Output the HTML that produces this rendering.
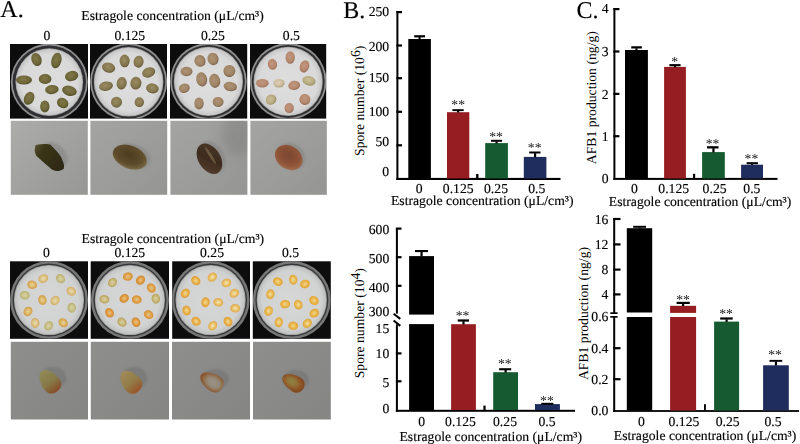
<!DOCTYPE html>
<html><head><meta charset="utf-8"><style>
html,body{margin:0;padding:0;background:#fff;}
svg{display:block;}
text{font-family:"Liberation Serif", serif;fill:#000;text-rendering:geometricPrecision;stroke:#000;stroke-width:0.15px;}
</style></head><body>
<svg width="800" height="444" viewBox="0 0 800 444">

<defs>
<filter id="tf0" x="-10%" y="-30%" width="120%" height="160%"><feOffset dx="0" dy="0"/></filter>
<filter id="tf" x="-10%" y="-30%" width="120%" height="160%"><feGaussianBlur stdDeviation="0.3"/></filter>
<filter id="bl" x="-30%" y="-30%" width="160%" height="160%"><feGaussianBlur stdDeviation="0.55"/></filter>
<filter id="bl3" x="-30%" y="-30%" width="160%" height="160%"><feGaussianBlur stdDeviation="0.55"/></filter>
<filter id="bl4" x="-50%" y="-50%" width="200%" height="200%"><feGaussianBlur stdDeviation="6"/></filter>
<filter id="bl2" x="-30%" y="-30%" width="160%" height="160%"><feGaussianBlur stdDeviation="1.0"/></filter>
<radialGradient id="paper1" cx="50%" cy="50%" r="50%"><stop offset="0" stop-color="#dddddd"/><stop offset="0.85" stop-color="#d9d9da"/><stop offset="1" stop-color="#c6c6c7"/></radialGradient>
<radialGradient id="paper2" cx="50%" cy="50%" r="50%"><stop offset="0" stop-color="#d6d6d6"/><stop offset="0.85" stop-color="#d1d2d2"/><stop offset="1" stop-color="#c0c0c1"/></radialGradient>
<linearGradient id="gray1" x1="0" y1="0" x2="1" y2="1"><stop offset="0" stop-color="#acacab"/><stop offset="1" stop-color="#979795"/></linearGradient>
<linearGradient id="gray1b" x1="0" y1="0" x2="1" y2="1"><stop offset="0" stop-color="#a4a4a2"/><stop offset="1" stop-color="#959593"/></linearGradient>
<linearGradient id="gray2" x1="0" y1="0" x2="1" y2="1"><stop offset="0" stop-color="#8e8e8d"/><stop offset="1" stop-color="#858584"/></linearGradient>
</defs>

<defs><radialGradient id="g1" cx="45%" cy="42%" r="58%"><stop offset="0" stop-color="#807847"/><stop offset="0.7" stop-color="#6d6639"/><stop offset="1" stop-color="#535027"/></radialGradient><radialGradient id="g2" cx="45%" cy="42%" r="58%"><stop offset="0" stop-color="#9a8b62"/><stop offset="0.7" stop-color="#85774f"/><stop offset="1" stop-color="#665a3a"/></radialGradient><radialGradient id="g3" cx="45%" cy="42%" r="58%"><stop offset="0" stop-color="#ae9274"/><stop offset="0.7" stop-color="#a08466"/><stop offset="1" stop-color="#7e644c"/></radialGradient><radialGradient id="g4" cx="45%" cy="42%" r="58%"><stop offset="0" stop-color="#c29680"/><stop offset="0.7" stop-color="#b6886e"/><stop offset="1" stop-color="#98705a"/></radialGradient><radialGradient id="g5" cx="45%" cy="42%" r="58%"><stop offset="0" stop-color="#ddd0b8"/><stop offset="0.7" stop-color="#ccba9a"/><stop offset="1" stop-color="#a89878"/></radialGradient><radialGradient id="g6" cx="45%" cy="42%" r="58%"><stop offset="0" stop-color="#ccc09a"/><stop offset="0.7" stop-color="#b8aa80"/><stop offset="1" stop-color="#988a60"/></radialGradient><linearGradient id="g7" x1="0" y1="0" x2="1" y2="0.6"><stop offset="0" stop-color="#5a532e"/><stop offset="0.3" stop-color="#3a3519"/><stop offset="1" stop-color="#2e2a16"/></linearGradient><radialGradient id="g8" cx="45%" cy="42%" r="58%"><stop offset="0" stop-color="#4e3c20"/><stop offset="0.7" stop-color="#5e4c2c"/><stop offset="1" stop-color="#786840"/></radialGradient><linearGradient id="g9" x1="0" y1="0" x2="1" y2="1"><stop offset="0" stop-color="#4a3828"/><stop offset="0.5" stop-color="#3e2c1e"/><stop offset="1" stop-color="#5a4030"/></linearGradient><radialGradient id="g10" cx="45%" cy="42%" r="58%"><stop offset="0" stop-color="#7a4630"/><stop offset="0.7" stop-color="#8e5438"/><stop offset="1" stop-color="#a06a4c"/></radialGradient><radialGradient id="g11" cx="50%" cy="50%" r="55%"><stop offset="0" stop-color="#e8dcb0"/><stop offset="0.55" stop-color="#dcc486"/><stop offset="1" stop-color="#d0a050"/></radialGradient><radialGradient id="g12" cx="50%" cy="50%" r="55%"><stop offset="0" stop-color="#d8d4a8"/><stop offset="0.55" stop-color="#c8c088"/><stop offset="1" stop-color="#b0a868"/></radialGradient><radialGradient id="g13" cx="50%" cy="50%" r="55%"><stop offset="0" stop-color="#e8d4a0"/><stop offset="0.55" stop-color="#dcb460"/><stop offset="1" stop-color="#cc9440"/></radialGradient><radialGradient id="g14" cx="50%" cy="50%" r="55%"><stop offset="0" stop-color="#e0c890"/><stop offset="0.55" stop-color="#e0a048"/><stop offset="1" stop-color="#d08a30"/></radialGradient><radialGradient id="g15" cx="50%" cy="50%" r="55%"><stop offset="0" stop-color="#d8d0a8"/><stop offset="0.55" stop-color="#c8b878"/><stop offset="1" stop-color="#b09850"/></radialGradient><radialGradient id="g16" cx="50%" cy="50%" r="55%"><stop offset="0" stop-color="#e8c888"/><stop offset="0.55" stop-color="#e09a40"/><stop offset="1" stop-color="#c88430"/></radialGradient><radialGradient id="g17" cx="50%" cy="50%" r="55%"><stop offset="0" stop-color="#f2e6c0"/><stop offset="0.55" stop-color="#e8c064"/><stop offset="1" stop-color="#e0a040"/></radialGradient><radialGradient id="g18" cx="50%" cy="50%" r="55%"><stop offset="0" stop-color="#f0dca0"/><stop offset="0.55" stop-color="#e8b048"/><stop offset="1" stop-color="#dc9830"/></radialGradient><radialGradient id="g19" cx="50%" cy="50%" r="55%"><stop offset="0" stop-color="#f0d890"/><stop offset="0.55" stop-color="#e8b448"/><stop offset="1" stop-color="#e0a030"/></radialGradient><radialGradient id="g20" cx="50%" cy="50%" r="55%"><stop offset="0" stop-color="#f0e0a8"/><stop offset="0.55" stop-color="#e8b850"/><stop offset="1" stop-color="#dca034"/></radialGradient><linearGradient id="g21" x1="0" y1="0" x2="0" y2="1"><stop offset="0" stop-color="#928a58"/><stop offset="0.55" stop-color="#867a48"/><stop offset="1" stop-color="#8a4a28"/></linearGradient><linearGradient id="g22" x1="0" y1="0" x2="0" y2="1"><stop offset="0" stop-color="#a08a58"/><stop offset="0.55" stop-color="#927c48"/><stop offset="1" stop-color="#9a5228"/></linearGradient><radialGradient id="g23" cx="50%" cy="58%" r="55%"><stop offset="0" stop-color="#9c9284"/><stop offset="0.45" stop-color="#948a7a"/><stop offset="0.72" stop-color="#92704e"/><stop offset="1" stop-color="#884e26"/></radialGradient><radialGradient id="g24" cx="50%" cy="45%" r="55%"><stop offset="0" stop-color="#8e8448"/><stop offset="0.4" stop-color="#927236"/><stop offset="0.7" stop-color="#8e562a"/><stop offset="1" stop-color="#824820"/></radialGradient></defs>
<rect x="10.00" y="44.00" width="78.00" height="74.60" fill="#0d0d0d" />
<clipPath id="clip1"><rect x="10" y="44" width="78" height="74.6"/></clipPath>
<g clip-path="url(#clip1)">
<g filter="url(#bl)">
<circle cx="49.3" cy="82.1" r="38.5" fill="#8e8e8e"/>
<circle cx="49.3" cy="82.1" r="36.7" fill="#2e2f30"/>
<circle cx="49.3" cy="82.1" r="33.8" fill="#a4a4a4"/>
<circle cx="49.3" cy="82.1" r="33.0" fill="url(#paper1)"/>
</g>
<g filter="url(#bl)">
<ellipse cx="36.5" cy="59.5" rx="5.0" ry="6.75" fill="url(#g1)" transform="rotate(-20 36.5 59.5)"/>
<ellipse cx="56.4" cy="60.5" rx="5.0" ry="8.0" fill="url(#g1)" transform="rotate(15 56.4 60.5)"/>
<ellipse cx="24" cy="80" rx="8.0" ry="4.5" fill="url(#g1)" transform="rotate(0 24 80)"/>
<ellipse cx="45.1" cy="79" rx="6.35" ry="5.0" fill="url(#g1)" transform="rotate(0 45.1 79)"/>
<ellipse cx="71.6" cy="76" rx="6.75" ry="5.0" fill="url(#g1)" transform="rotate(-15 71.6 76)"/>
<ellipse cx="51.9" cy="89.6" rx="6.75" ry="4.5" fill="url(#g1)" transform="rotate(-5 51.9 89.6)"/>
<ellipse cx="69.4" cy="90.8" rx="7.5" ry="5.0" fill="url(#g1)" transform="rotate(15 69.4 90.8)"/>
<ellipse cx="29.1" cy="98.3" rx="5.0" ry="6.75" fill="url(#g1)" transform="rotate(25 29.1 98.3)"/>
<ellipse cx="44.8" cy="106.4" rx="4.65" ry="6.0" fill="url(#g1)" transform="rotate(0 44.8 106.4)"/>
<ellipse cx="62.7" cy="103" rx="6.0" ry="5.0" fill="url(#g1)" transform="rotate(30 62.7 103)"/>
</g></g>
<rect x="90.00" y="44.00" width="77.00" height="74.60" fill="#0d0d0d" />
<clipPath id="clip2"><rect x="90" y="44" width="77" height="74.6"/></clipPath>
<g clip-path="url(#clip2)">
<g filter="url(#bl)">
<circle cx="128.6" cy="81.8" r="38.5" fill="#8e8e8e"/>
<circle cx="128.6" cy="81.8" r="36.7" fill="#2e2f30"/>
<circle cx="128.6" cy="81.8" r="34.8" fill="#a4a4a4"/>
<circle cx="128.6" cy="81.8" r="34.0" fill="url(#paper1)"/>
</g>
<g filter="url(#bl)">
<ellipse cx="108.6" cy="67.6" rx="6.75" ry="5.0" fill="url(#g2)" transform="rotate(15 108.6 67.6)"/>
<ellipse cx="124.6" cy="60.9" rx="5.0" ry="6.35" fill="url(#g2)" transform="rotate(0 124.6 60.9)"/>
<ellipse cx="138.6" cy="61.7" rx="5.0" ry="6.0" fill="url(#g2)" transform="rotate(10 138.6 61.7)"/>
<ellipse cx="148.7" cy="72.4" rx="6.75" ry="5.0" fill="url(#g2)" transform="rotate(-20 148.7 72.4)"/>
<ellipse cx="106" cy="86.2" rx="7.0" ry="4.65" fill="url(#g2)" transform="rotate(-10 106 86.2)"/>
<ellipse cx="121.7" cy="83.2" rx="5.0" ry="6.35" fill="url(#g2)" transform="rotate(10 121.7 83.2)"/>
<ellipse cx="135.9" cy="83.2" rx="5.5" ry="6.35" fill="url(#g2)" transform="rotate(10 135.9 83.2)"/>
<ellipse cx="152.4" cy="88.4" rx="6.35" ry="5.0" fill="url(#g2)" transform="rotate(10 152.4 88.4)"/>
<ellipse cx="116.5" cy="102.2" rx="5.5" ry="5.5" fill="url(#g2)" transform="rotate(0 116.5 102.2)"/>
<ellipse cx="139.3" cy="102.2" rx="4.65" ry="5.0" fill="url(#g2)" transform="rotate(0 139.3 102.2)"/>
</g></g>
<rect x="170.00" y="44.00" width="77.20" height="74.60" fill="#0d0d0d" />
<clipPath id="clip3"><rect x="170" y="44" width="77.19999999999999" height="74.6"/></clipPath>
<g clip-path="url(#clip3)">
<g filter="url(#bl)">
<circle cx="208.4" cy="81.4" r="38.3" fill="#8e8e8e"/>
<circle cx="208.4" cy="81.4" r="36.5" fill="#2e2f30"/>
<circle cx="208.4" cy="81.4" r="34.599999999999994" fill="#a4a4a4"/>
<circle cx="208.4" cy="81.4" r="33.8" fill="url(#paper1)"/>
</g>
<g filter="url(#bl)">
<ellipse cx="200" cy="60.9" rx="5.5" ry="6.0" fill="url(#g3)" transform="rotate(-30 200 60.9)"/>
<ellipse cx="213" cy="58.9" rx="5.5" ry="6.35" fill="url(#g3)" transform="rotate(-20 213 58.9)"/>
<ellipse cx="186.5" cy="71.5" rx="6.0" ry="4.65" fill="url(#g3)" transform="rotate(0 186.5 71.5)"/>
<ellipse cx="229.4" cy="71" rx="6.0" ry="6.0" fill="url(#g3)" transform="rotate(20 229.4 71)"/>
<ellipse cx="201.7" cy="79.4" rx="5.5" ry="7.15" fill="url(#g3)" transform="rotate(-10 201.7 79.4)"/>
<ellipse cx="214.7" cy="80.8" rx="5.5" ry="7.15" fill="url(#g3)" transform="rotate(-10 214.7 80.8)"/>
<ellipse cx="184.3" cy="88.2" rx="5.5" ry="4.65" fill="url(#g3)" transform="rotate(-15 184.3 88.2)"/>
<ellipse cx="230.3" cy="86.5" rx="6.75" ry="4.65" fill="url(#g3)" transform="rotate(10 230.3 86.5)"/>
<ellipse cx="199" cy="103.4" rx="4.65" ry="6.0" fill="url(#g3)" transform="rotate(0 199 103.4)"/>
<ellipse cx="218.1" cy="101.9" rx="5.5" ry="5.0" fill="url(#g3)" transform="rotate(10 218.1 101.9)"/>
</g></g>
<rect x="250.00" y="44.00" width="76.20" height="74.60" fill="#0d0d0d" />
<clipPath id="clip4"><rect x="250" y="44" width="76.19999999999999" height="74.6"/></clipPath>
<g clip-path="url(#clip4)">
<g filter="url(#bl)">
<circle cx="288.2" cy="81.4" r="38.3" fill="#8e8e8e"/>
<circle cx="288.2" cy="81.4" r="36.5" fill="#2e2f30"/>
<circle cx="288.2" cy="81.4" r="34.599999999999994" fill="#a4a4a4"/>
<circle cx="288.2" cy="81.4" r="33.8" fill="url(#paper1)"/>
</g>
<g filter="url(#bl)">
<ellipse cx="290.2" cy="57.5" rx="4.65" ry="6.35" fill="url(#g4)" transform="rotate(0 290.2 57.5)"/>
<ellipse cx="272.4" cy="64.3" rx="4.65" ry="5.5" fill="url(#g4)" transform="rotate(-10 272.4 64.3)"/>
<ellipse cx="304.5" cy="66.4" rx="4.65" ry="6.35" fill="url(#g4)" transform="rotate(20 304.5 66.4)"/>
<ellipse cx="262.3" cy="83.3" rx="6.35" ry="4.2" fill="url(#g4)" transform="rotate(0 262.3 83.3)"/>
<ellipse cx="279" cy="83.3" rx="5.5" ry="4.2" fill="url(#g5)" transform="rotate(0 279 83.3)"/>
<ellipse cx="294.2" cy="85.4" rx="6.0" ry="4.65" fill="url(#g4)" transform="rotate(-10 294.2 85.4)"/>
<ellipse cx="309" cy="80.8" rx="6.75" ry="4.65" fill="url(#g6)" transform="rotate(15 309 80.8)"/>
<ellipse cx="271.1" cy="99.7" rx="5.5" ry="5.0" fill="url(#g6)" transform="rotate(-30 271.1 99.7)"/>
<ellipse cx="304.9" cy="99.4" rx="5.5" ry="5.5" fill="url(#g4)" transform="rotate(30 304.9 99.4)"/>
<ellipse cx="289.2" cy="108.1" rx="4.65" ry="5.0" fill="url(#g4)" transform="rotate(0 289.2 108.1)"/>
</g></g>
<rect x="10.80" y="120.80" width="77.00" height="74.00" fill="url(#gray1)" />
<clipPath id="clip5"><rect x="10.8" y="120.8" width="77.0" height="74.00000000000001"/></clipPath>
<g clip-path="url(#clip5)"><g filter="url(#bl3)">
<ellipse cx="54" cy="155" rx="15" ry="11" fill="#7a7a7a" opacity="0.45" transform="rotate(40 54 155)" filter="url(#bl2)"/>
<path d="M35.10,147.20 C35.68,144.94 35.02,145.28 38.10,144.60 C41.18,143.92 44.99,143.81 48.30,144.30 C51.61,144.79 49.94,144.60 52.30,146.70 C54.66,148.80 56.02,150.10 58.40,153.30 C60.78,156.50 61.19,157.20 62.50,160.40 C63.81,163.60 64.23,164.76 64.00,167.00 C63.77,169.24 63.74,169.18 61.50,170.00 C59.26,170.82 57.71,171.57 54.40,170.50 C51.09,169.43 50.61,168.01 47.30,165.40 C43.99,162.79 42.93,161.89 40.20,159.30 C37.47,156.71 36.79,157.12 35.60,154.30 C34.41,151.48 34.52,149.46 35.10,147.20 Z" fill="url(#g7)"/>
</g></g>
<rect x="90.40" y="120.80" width="76.80" height="74.00" fill="url(#gray1b)" />
<clipPath id="clip6"><rect x="90.4" y="120.8" width="76.79999999999998" height="74.00000000000001"/></clipPath>
<g clip-path="url(#clip6)"><g filter="url(#bl3)">
<ellipse cx="133" cy="156" rx="18" ry="12" fill="#7a7a7a" opacity="0.45" transform="rotate(20 133 156)" filter="url(#bl2)"/>
<ellipse cx="129.8" cy="157.1" rx="17.8" ry="11.4" fill="url(#g8)" transform="rotate(22 129.8 157.1)"/>
</g></g>
<rect x="170.40" y="120.80" width="77.00" height="74.00" fill="url(#gray1b)" />
<clipPath id="clip7"><rect x="170.4" y="120.8" width="77.0" height="74.00000000000001"/></clipPath>
<g clip-path="url(#clip7)"><g filter="url(#bl3)">
<ellipse cx="238" cy="135" rx="16" ry="22" fill="#7e7e7c" opacity="0.5" filter="url(#bl4)"/>
<ellipse cx="212" cy="157" rx="17" ry="12" fill="#7a7a7a" opacity="0.45" transform="rotate(58 212 157)" filter="url(#bl2)"/>
<ellipse cx="209.4" cy="158.7" rx="16.5" ry="11" fill="url(#g9)" transform="rotate(58 209.4 158.7)"/>
<ellipse cx="210.5" cy="155.5" rx="10" ry="1.4" fill="#a08c6a" opacity="0.45" transform="rotate(58 210.5 155.5)"/>
</g></g>
<rect x="250.40" y="120.80" width="76.40" height="74.00" fill="url(#gray1b)" />
<clipPath id="clip8"><rect x="250.4" y="120.8" width="76.4" height="74.00000000000001"/></clipPath>
<g clip-path="url(#clip8)"><g filter="url(#bl3)">
<ellipse cx="291" cy="156" rx="15" ry="12.5" fill="#7a7a7a" opacity="0.45" transform="rotate(35 291 156)" filter="url(#bl2)"/>
<ellipse cx="288.7" cy="157.6" rx="14.8" ry="11.6" fill="url(#g10)" transform="rotate(35 288.7 157.6)"/>
</g></g>
<rect x="10.00" y="261.30" width="78.00" height="77.50" fill="#0d0d0d" />
<clipPath id="clip9"><rect x="10" y="261.3" width="78" height="77.5"/></clipPath>
<g clip-path="url(#clip9)">
<g filter="url(#bl)">
<circle cx="49.0" cy="300" r="39" fill="#767776"/>
<circle cx="49.0" cy="300" r="36.5" fill="#36383a"/>
<circle cx="49.0" cy="300" r="35.099999999999994" fill="#a4a4a4"/>
<circle cx="49.0" cy="300" r="34.3" fill="url(#paper2)"/>
</g>
<g filter="url(#bl)">
<ellipse cx="43.3" cy="278.6" rx="5.0" ry="4.2" fill="url(#g11)" transform="rotate(-21.140068220020517 43.3 278.6)"/>
<ellipse cx="60.5" cy="278.6" rx="5.0" ry="4.2" fill="url(#g12)" transform="rotate(48.10190087094023 60.5 278.6)"/>
<ellipse cx="32.2" cy="284.7" rx="5.0" ry="4.2" fill="url(#g13)" transform="rotate(18.11213676478245 32.2 284.7)"/>
<ellipse cx="71.3" cy="291.2" rx="5.0" ry="4.2" fill="url(#g11)" transform="rotate(38.69235440010513 71.3 291.2)"/>
<ellipse cx="24.8" cy="295.3" rx="5.0" ry="4.2" fill="url(#g12)" transform="rotate(4.305840516802704 24.8 295.3)"/>
<ellipse cx="42.4" cy="300" rx="5.0" ry="4.2" fill="url(#g13)" transform="rotate(73.88267002951027 42.4 300)"/>
<ellipse cx="55" cy="300.5" rx="5.0" ry="4.2" fill="url(#g11)" transform="rotate(-53.040129027035185 55 300.5)"/>
<ellipse cx="71.8" cy="307.7" rx="5.0" ry="4.2" fill="url(#g12)" transform="rotate(90.89228798273044 71.8 307.7)"/>
<ellipse cx="28" cy="311.4" rx="5.0" ry="4.2" fill="url(#g13)" transform="rotate(-55.50052098696182 28 311.4)"/>
<ellipse cx="35.2" cy="323" rx="5.0" ry="4.2" fill="url(#g11)" transform="rotate(82.0374820394863 35.2 323)"/>
<ellipse cx="48.7" cy="325.8" rx="5.0" ry="4.2" fill="url(#g12)" transform="rotate(-51.61734917104573 48.7 325.8)"/>
<ellipse cx="63.2" cy="322.7" rx="5.0" ry="4.2" fill="url(#g13)" transform="rotate(40.8855616012638 63.2 322.7)"/>
</g></g>
<rect x="90.70" y="261.30" width="78.30" height="77.50" fill="#0d0d0d" />
<clipPath id="clip10"><rect x="90.7" y="261.3" width="78.3" height="77.5"/></clipPath>
<g clip-path="url(#clip10)">
<g filter="url(#bl)">
<circle cx="129.9" cy="300" r="39" fill="#767776"/>
<circle cx="129.9" cy="300" r="36.5" fill="#36383a"/>
<circle cx="129.9" cy="300" r="35.099999999999994" fill="#a4a4a4"/>
<circle cx="129.9" cy="300" r="34.3" fill="url(#paper2)"/>
</g>
<g filter="url(#bl)">
<ellipse cx="127.8" cy="276.6" rx="5.0" ry="4.2" fill="url(#g14)" transform="rotate(-9.057697302898326 127.8 276.6)"/>
<ellipse cx="112.5" cy="282.5" rx="5.0" ry="4.2" fill="url(#g15)" transform="rotate(129.22225496064456 112.5 282.5)"/>
<ellipse cx="140.5" cy="280.2" rx="5.0" ry="4.2" fill="url(#g16)" transform="rotate(-45.14376466204253 140.5 280.2)"/>
<ellipse cx="151.3" cy="288" rx="5.0" ry="4.2" fill="url(#g14)" transform="rotate(56.78867575284174 151.3 288)"/>
<ellipse cx="104.4" cy="299.3" rx="5.0" ry="4.2" fill="url(#g15)" transform="rotate(15.291986688670718 104.4 299.3)"/>
<ellipse cx="124.2" cy="298.4" rx="5.0" ry="4.2" fill="url(#g16)" transform="rotate(143.7250730948407 124.2 298.4)"/>
<ellipse cx="136.8" cy="299.6" rx="5.0" ry="4.2" fill="url(#g14)" transform="rotate(9.252353834099836 136.8 299.6)"/>
<ellipse cx="155.8" cy="298.7" rx="5.0" ry="4.2" fill="url(#g15)" transform="rotate(77.60165695809363 155.8 298.7)"/>
<ellipse cx="109.5" cy="312.8" rx="5.0" ry="4.2" fill="url(#g16)" transform="rotate(57.15061267115041 109.5 312.8)"/>
<ellipse cx="148.6" cy="314.6" rx="5.0" ry="4.2" fill="url(#g14)" transform="rotate(35.58992167413075 148.6 314.6)"/>
<ellipse cx="122" cy="322.2" rx="5.0" ry="4.2" fill="url(#g15)" transform="rotate(43.01621508584154 122 322.2)"/>
<ellipse cx="136" cy="322.2" rx="5.0" ry="4.2" fill="url(#g16)" transform="rotate(64.75311435980115 136 322.2)"/>
</g></g>
<rect x="172.20" y="261.30" width="77.80" height="77.50" fill="#0d0d0d" />
<clipPath id="clip11"><rect x="172.2" y="261.3" width="77.80000000000001" height="77.5"/></clipPath>
<g clip-path="url(#clip11)">
<g filter="url(#bl)">
<circle cx="210.6" cy="300" r="39" fill="#767776"/>
<circle cx="210.6" cy="300" r="36.5" fill="#36383a"/>
<circle cx="210.6" cy="300" r="35.099999999999994" fill="#a4a4a4"/>
<circle cx="210.6" cy="300" r="34.3" fill="url(#paper2)"/>
</g>
<g filter="url(#bl)">
<ellipse cx="212.3" cy="277.1" rx="5.0" ry="4.2" fill="url(#g17)" transform="rotate(-42.6893899971075 212.3 277.1)"/>
<ellipse cx="195.8" cy="280.7" rx="5.0" ry="4.2" fill="url(#g18)" transform="rotate(44.135068569404204 195.8 280.7)"/>
<ellipse cx="226.4" cy="282.9" rx="5.0" ry="4.2" fill="url(#g17)" transform="rotate(-22.98218110776788 226.4 282.9)"/>
<ellipse cx="185.3" cy="293.3" rx="5.0" ry="4.2" fill="url(#g18)" transform="rotate(127.93516309440376 185.3 293.3)"/>
<ellipse cx="234.3" cy="293.3" rx="5.0" ry="4.2" fill="url(#g17)" transform="rotate(-38.312834409127504 234.3 293.3)"/>
<ellipse cx="205.5" cy="302.3" rx="5.0" ry="4.2" fill="url(#g18)" transform="rotate(99.79201963949595 205.5 302.3)"/>
<ellipse cx="218.3" cy="302.3" rx="5.0" ry="4.2" fill="url(#g17)" transform="rotate(16.66961627114209 218.3 302.3)"/>
<ellipse cx="186.6" cy="310.5" rx="5.0" ry="4.2" fill="url(#g18)" transform="rotate(74.68770512708775 186.6 310.5)"/>
<ellipse cx="235.2" cy="308.3" rx="5.0" ry="4.2" fill="url(#g17)" transform="rotate(5.729335885146938 235.2 308.3)"/>
<ellipse cx="196.1" cy="321.3" rx="5.0" ry="4.2" fill="url(#g18)" transform="rotate(37.53467699679878 196.1 321.3)"/>
<ellipse cx="212.7" cy="325.8" rx="5.0" ry="4.2" fill="url(#g17)" transform="rotate(-52.84785960405208 212.7 325.8)"/>
<ellipse cx="228" cy="321.6" rx="5.0" ry="4.2" fill="url(#g18)" transform="rotate(54.71504553831919 228 321.6)"/>
</g></g>
<rect x="252.80" y="261.30" width="78.00" height="77.50" fill="#0d0d0d" />
<clipPath id="clip12"><rect x="252.8" y="261.3" width="78.0" height="77.5"/></clipPath>
<g clip-path="url(#clip12)">
<g filter="url(#bl)">
<circle cx="291.8" cy="300" r="39" fill="#767776"/>
<circle cx="291.8" cy="300" r="36.5" fill="#36383a"/>
<circle cx="291.8" cy="300" r="35.099999999999994" fill="#a4a4a4"/>
<circle cx="291.8" cy="300" r="34.3" fill="url(#paper2)"/>
</g>
<g filter="url(#bl)">
<ellipse cx="277.9" cy="281.6" rx="5.0" ry="4.2" fill="url(#g19)" transform="rotate(21.647996781814314 277.9 281.6)"/>
<ellipse cx="293.2" cy="279.8" rx="5.0" ry="4.2" fill="url(#g20)" transform="rotate(81.31107668032834 293.2 279.8)"/>
<ellipse cx="305" cy="284" rx="5.0" ry="4.2" fill="url(#g19)" transform="rotate(-22.30233955478502 305 284)"/>
<ellipse cx="270.4" cy="294.2" rx="5.0" ry="4.2" fill="url(#g20)" transform="rotate(100.26742362091665 270.4 294.2)"/>
<ellipse cx="285.1" cy="304.1" rx="5.0" ry="4.2" fill="url(#g19)" transform="rotate(-5.61787483550696 285.1 304.1)"/>
<ellipse cx="298.3" cy="304.7" rx="5.0" ry="4.2" fill="url(#g20)" transform="rotate(65.97203962364188 298.3 304.7)"/>
<ellipse cx="314" cy="300.5" rx="5.0" ry="4.2" fill="url(#g19)" transform="rotate(35.325537782698945 314 300.5)"/>
<ellipse cx="268.6" cy="311" rx="5.0" ry="4.2" fill="url(#g20)" transform="rotate(113.87933204754856 268.6 311)"/>
<ellipse cx="314.3" cy="313.2" rx="5.0" ry="4.2" fill="url(#g19)" transform="rotate(-30.708418713341654 314.3 313.2)"/>
<ellipse cx="278.8" cy="322.2" rx="5.0" ry="4.2" fill="url(#g20)" transform="rotate(98.93084523104052 278.8 322.2)"/>
<ellipse cx="293.2" cy="325.8" rx="5.0" ry="4.2" fill="url(#g19)" transform="rotate(3.023580457374173 293.2 325.8)"/>
<ellipse cx="307.3" cy="323.4" rx="5.0" ry="4.2" fill="url(#g20)" transform="rotate(135.01649946881147 307.3 323.4)"/>
</g></g>
<rect x="10.80" y="341.80" width="77.20" height="77.70" fill="url(#gray2)" />
<clipPath id="clip13"><rect x="10.8" y="341.8" width="77.2" height="77.69999999999999"/></clipPath>
<g clip-path="url(#clip13)"><g filter="url(#bl3)">
<ellipse cx="53" cy="378" rx="13" ry="11" fill="#6a6a6a" opacity="0.45" filter="url(#bl2)"/>
<path d="M0,-12 C6,-12 10,-3 10,4 C10,10 6,13 0,13 C-6,13 -10,10 -10,4 C-10,-3 -6,-12 0,-12 Z" fill="url(#g21)" transform="translate(49.2 380.8) rotate(-38) scale(0.92 1.02)"/>
</g></g>
<rect x="90.80" y="341.80" width="78.20" height="77.70" fill="url(#gray2)" />
<clipPath id="clip14"><rect x="90.8" y="341.8" width="78.2" height="77.69999999999999"/></clipPath>
<g clip-path="url(#clip14)"><g filter="url(#bl3)">
<ellipse cx="134" cy="378" rx="13" ry="11" fill="#6a6a6a" opacity="0.45" filter="url(#bl2)"/>
<path d="M0,-12 C6,-12 10,-3 10,4 C10,10 6,13 0,13 C-6,13 -10,10 -10,4 C-10,-3 -6,-12 0,-12 Z" fill="url(#g22)" transform="translate(130.2 381.2) rotate(-40) scale(0.92 1.0)"/>
</g></g>
<rect x="172.00" y="341.80" width="78.00" height="77.70" fill="url(#gray2)" />
<clipPath id="clip15"><rect x="172" y="341.8" width="78" height="77.69999999999999"/></clipPath>
<g clip-path="url(#clip15)"><g filter="url(#bl3)">
<ellipse cx="215" cy="379" rx="14" ry="10" fill="#6a6a6a" opacity="0.45" filter="url(#bl2)"/>
<path d="M0,-12 C6,-12 10,-3 10,4 C10,10 6,13 0,13 C-6,13 -10,10 -10,4 C-10,-3 -6,-12 0,-12 Z" fill="url(#g23)" transform="translate(211.2 381.3) rotate(-58) scale(0.85 1.0)"/>
</g></g>
<rect x="253.00" y="341.80" width="77.80" height="77.70" fill="url(#gray2)" />
<clipPath id="clip16"><rect x="253" y="341.8" width="77.80000000000001" height="77.69999999999999"/></clipPath>
<g clip-path="url(#clip16)"><g filter="url(#bl3)">
<ellipse cx="296" cy="380" rx="13" ry="10" fill="#6a6a6a" opacity="0.45" filter="url(#bl2)"/>
<path d="M0,-12 C6,-12 10,-3 10,4 C10,10 6,13 0,13 C-6,13 -10,10 -10,4 C-10,-3 -6,-12 0,-12 Z" fill="url(#g24)" transform="translate(292.7 382.3) rotate(-60) scale(0.8 0.95)"/>
</g></g>
<text x="0.35" y="16.80" text-anchor="start" font-size="24" filter="url(#tf0)" >A.</text>
<text x="81.30" y="19.50" text-anchor="start" font-size="13.7" filter="url(#tf0)" >Estragole concentration (μL/cm³)</text>
<text x="47.00" y="39.60" text-anchor="middle" font-size="13.7" filter="url(#tf0)" >0</text>
<text x="129.80" y="39.60" text-anchor="middle" font-size="13.7" filter="url(#tf0)" >0.125</text>
<text x="212.90" y="39.60" text-anchor="middle" font-size="13.7" filter="url(#tf0)" >0.25</text>
<text x="291.40" y="39.60" text-anchor="middle" font-size="13.7" filter="url(#tf0)" >0.5</text>
<text x="81.60" y="242.60" text-anchor="start" font-size="13.7" filter="url(#tf0)" >Estragole concentration (μL/cm³)</text>
<text x="46.50" y="257.20" text-anchor="middle" font-size="13.7" filter="url(#tf0)" >0</text>
<text x="129.80" y="257.20" text-anchor="middle" font-size="13.7" filter="url(#tf0)" >0.125</text>
<text x="212.00" y="257.20" text-anchor="middle" font-size="13.7" filter="url(#tf0)" >0.25</text>
<text x="290.50" y="257.20" text-anchor="middle" font-size="13.7" filter="url(#tf0)" >0.5</text>
<text x="343.20" y="18.00" text-anchor="start" font-size="24" filter="url(#tf0)" >B.</text>
<rect x="396.40" y="11.00" width="2.00" height="169.00" fill="#000" />
<rect x="396.40" y="177.90" width="164.10" height="2.10" fill="#000" />
<rect x="396.40" y="11.00" width="5.60" height="2.20" fill="#000" />
<rect x="396.40" y="44.40" width="5.60" height="2.20" fill="#000" />
<rect x="396.40" y="77.10" width="5.60" height="2.20" fill="#000" />
<rect x="396.40" y="110.70" width="5.60" height="2.20" fill="#000" />
<rect x="396.40" y="144.20" width="5.60" height="2.20" fill="#000" />
<text x="389.20" y="16.00" text-anchor="end" font-size="13.7" filter="url(#tf0)" >250</text>
<text x="389.20" y="50.80" text-anchor="end" font-size="13.7" filter="url(#tf0)" >200</text>
<text x="389.20" y="82.20" text-anchor="end" font-size="13.7" filter="url(#tf0)" >150</text>
<text x="389.20" y="116.40" text-anchor="end" font-size="13.7" filter="url(#tf0)" >100</text>
<text x="389.20" y="145.50" text-anchor="end" font-size="13.7" filter="url(#tf0)" >50</text>
<text x="389.20" y="176.10" text-anchor="end" font-size="13.7" filter="url(#tf0)" >0</text>
<rect x="408.30" y="39.00" width="22.60" height="139.50" fill="#000" />
<rect x="414.20" y="35.20" width="10.80" height="2.20" fill="#000" />
<rect x="418.50" y="37.10" width="2.20" height="2.20" fill="#000" />
<rect x="447.00" y="112.20" width="22.30" height="66.30" fill="#961e23" />
<rect x="452.40" y="109.20" width="11.30" height="1.90" fill="#000" />
<rect x="457.05" y="110.80" width="2.20" height="1.70" fill="#000" />
<text x="458.15" y="109.35" text-anchor="middle" font-size="13.7" filter="url(#tf0)" style="stroke:none;fill:#1a1a1a">**</text>
<rect x="485.20" y="143.10" width="22.70" height="35.40" fill="#155a31" />
<rect x="491.00" y="139.80" width="11.10" height="2.00" fill="#000" />
<rect x="495.45" y="141.50" width="2.20" height="1.90" fill="#000" />
<text x="496.05" y="141.05" text-anchor="middle" font-size="13.7" filter="url(#tf0)" style="stroke:none;fill:#1a1a1a">**</text>
<rect x="523.80" y="156.90" width="22.60" height="21.60" fill="#1f2c5e" />
<rect x="529.20" y="151.50" width="11.30" height="2.00" fill="#000" />
<rect x="534.00" y="153.20" width="2.20" height="4.00" fill="#000" />
<text x="534.65" y="151.65" text-anchor="middle" font-size="13.7" filter="url(#tf0)" style="stroke:none;fill:#1a1a1a">**</text>
<rect x="476.10" y="174.00" width="2.40" height="4.50" fill="#000" />
<text x="419.20" y="193.30" text-anchor="middle" font-size="13.7" filter="url(#tf0)" >0</text>
<text x="458.20" y="193.30" text-anchor="middle" font-size="13.7" filter="url(#tf0)" >0.125</text>
<text x="496.00" y="193.30" text-anchor="middle" font-size="13.7" filter="url(#tf0)" >0.25</text>
<text x="536.80" y="193.30" text-anchor="middle" font-size="13.7" filter="url(#tf0)" >0.5</text>
<text x="391.00" y="204.80" text-anchor="start" font-size="13.7" filter="url(#tf0)" >Estragole concentration (μL/cm³)</text>
<text transform="translate(364.00,100.80) rotate(-90)" text-anchor="middle" font-size="13.7" style="stroke:none">Spore number (10<tspan dy="-4.5">6</tspan><tspan dy="4.5">)</tspan></text>
<text x="576.40" y="17.70" text-anchor="start" font-size="24" filter="url(#tf0)" >C.</text>
<rect x="613.40" y="8.00" width="2.00" height="172.00" fill="#000" />
<rect x="613.40" y="177.90" width="164.10" height="2.00" fill="#000" />
<rect x="613.40" y="8.00" width="6.00" height="2.20" fill="#000" />
<rect x="613.40" y="50.40" width="6.00" height="2.20" fill="#000" />
<rect x="613.40" y="92.80" width="6.00" height="2.20" fill="#000" />
<rect x="613.40" y="135.10" width="6.00" height="2.20" fill="#000" />
<text x="608.60" y="12.80" text-anchor="end" font-size="13.7" filter="url(#tf0)" >4</text>
<text x="608.60" y="55.60" text-anchor="end" font-size="13.7" filter="url(#tf0)" >3</text>
<text x="608.60" y="99.00" text-anchor="end" font-size="13.7" filter="url(#tf0)" >2</text>
<text x="608.60" y="141.10" text-anchor="end" font-size="13.7" filter="url(#tf0)" >1</text>
<text x="608.60" y="182.60" text-anchor="end" font-size="13.7" filter="url(#tf0)" >0</text>
<rect x="625.00" y="50.00" width="22.90" height="128.50" fill="#000" />
<rect x="631.25" y="46.25" width="10.65" height="2.25" fill="#000" />
<rect x="635.35" y="48.20" width="2.20" height="2.10" fill="#000" />
<rect x="664.10" y="66.90" width="21.80" height="111.60" fill="#961e23" />
<rect x="669.40" y="64.10" width="11.20" height="2.15" fill="#000" />
<rect x="673.90" y="65.95" width="2.20" height="1.25" fill="#000" />
<text x="674.70" y="66.40" text-anchor="middle" font-size="13.7" filter="url(#tf0)" style="stroke:none;fill:#1a1a1a">*</text>
<rect x="702.10" y="152.10" width="22.70" height="26.40" fill="#155a31" />
<rect x="707.00" y="146.20" width="11.50" height="2.30" fill="#000" />
<rect x="712.35" y="148.20" width="2.20" height="4.20" fill="#000" />
<text x="712.55" y="147.65" text-anchor="middle" font-size="13.7" filter="url(#tf0)" style="stroke:none;fill:#1a1a1a">**</text>
<rect x="741.10" y="164.70" width="21.90" height="13.80" fill="#1f2c5e" />
<rect x="746.60" y="162.20" width="11.30" height="2.00" fill="#000" />
<rect x="750.95" y="163.90" width="2.20" height="1.10" fill="#000" />
<text x="751.45" y="163.35" text-anchor="middle" font-size="13.7" filter="url(#tf0)" style="stroke:none;fill:#1a1a1a">**</text>
<rect x="693.00" y="173.80" width="2.20" height="4.70" fill="#000" />
<text x="634.40" y="193.10" text-anchor="middle" font-size="13.7" filter="url(#tf0)" >0</text>
<text x="673.75" y="193.10" text-anchor="middle" font-size="13.7" filter="url(#tf0)" >0.125</text>
<text x="714.60" y="193.10" text-anchor="middle" font-size="13.7" filter="url(#tf0)" >0.25</text>
<text x="751.90" y="193.10" text-anchor="middle" font-size="13.7" filter="url(#tf0)" >0.5</text>
<text x="608.80" y="205.50" text-anchor="start" font-size="13.7" filter="url(#tf0)" >Estragole concentration (μL/cm³)</text>
<text transform="translate(596.20,97.70) rotate(-90)" text-anchor="middle" font-size="13.7" style="stroke:none">AFB1 production (ng/g)</text>
<rect x="395.90" y="228.00" width="2.00" height="85.60" fill="#000" />
<rect x="395.90" y="324.30" width="2.00" height="87.50" fill="#000" />
<rect x="395.90" y="409.80" width="179.10" height="2.00" fill="#000" />
<line x1="393.6" y1="313.7" x2="400.3" y2="318.9" stroke="#000" stroke-width="2"/>
<line x1="393.6" y1="320.5" x2="400.3" y2="325.9" stroke="#000" stroke-width="2"/>
<rect x="395.90" y="227.50" width="5.60" height="2.20" fill="#000" />
<rect x="395.90" y="256.10" width="5.60" height="2.20" fill="#000" />
<rect x="395.90" y="284.70" width="5.60" height="2.20" fill="#000" />
<rect x="395.90" y="352.30" width="5.60" height="2.20" fill="#000" />
<rect x="395.90" y="380.20" width="5.60" height="2.20" fill="#000" />
<text x="389.30" y="234.00" text-anchor="end" font-size="13.7" filter="url(#tf0)" >600</text>
<text x="389.30" y="262.80" text-anchor="end" font-size="13.7" filter="url(#tf0)" >500</text>
<text x="389.30" y="291.50" text-anchor="end" font-size="13.7" filter="url(#tf0)" >400</text>
<text x="389.30" y="315.60" text-anchor="end" font-size="13.7" filter="url(#tf0)" >300</text>
<text x="389.30" y="332.70" text-anchor="end" font-size="13.7" filter="url(#tf0)" >15</text>
<text x="389.30" y="358.20" text-anchor="end" font-size="13.7" filter="url(#tf0)" >10</text>
<text x="389.30" y="386.70" text-anchor="end" font-size="13.7" filter="url(#tf0)" >5</text>
<text x="389.30" y="413.40" text-anchor="end" font-size="13.7" filter="url(#tf0)" >0</text>
<rect x="409.10" y="256.10" width="24.90" height="58.50" fill="#000" />
<rect x="409.10" y="324.10" width="24.90" height="85.90" fill="#000" />
<rect x="415.00" y="250.00" width="13.00" height="2.10" fill="#000" />
<rect x="420.45" y="251.80" width="2.20" height="4.60" fill="#000" />
<rect x="451.10" y="324.20" width="24.80" height="85.80" fill="#961e23" />
<rect x="457.70" y="319.40" width="11.30" height="2.20" fill="#000" />
<rect x="462.40" y="321.30" width="2.20" height="3.20" fill="#000" />
<text x="462.60" y="319.65" text-anchor="middle" font-size="13.7" filter="url(#tf0)" style="stroke:none;fill:#1a1a1a">**</text>
<rect x="493.20" y="372.20" width="24.80" height="37.80" fill="#155a31" />
<rect x="499.10" y="368.20" width="12.10" height="2.10" fill="#000" />
<rect x="504.50" y="370.00" width="2.20" height="2.50" fill="#000" />
<text x="504.85" y="367.55" text-anchor="middle" font-size="13.7" filter="url(#tf0)" style="stroke:none;fill:#1a1a1a">**</text>
<rect x="535.00" y="404.10" width="24.90" height="5.90" fill="#1f2c5e" />
<rect x="541.30" y="402.80" width="12.10" height="2.00" fill="#000" />
<rect x="546.35" y="404.50" width="2.20" height="-0.10" fill="#000" />
<text x="546.90" y="405.15" text-anchor="middle" font-size="13.7" filter="url(#tf0)" style="stroke:none;fill:#1a1a1a">**</text>
<rect x="483.40" y="405.60" width="2.20" height="4.40" fill="#000" />
<text x="421.60" y="425.50" text-anchor="middle" font-size="13.7" filter="url(#tf0)" >0</text>
<text x="460.50" y="425.50" text-anchor="middle" font-size="13.7" filter="url(#tf0)" >0.125</text>
<text x="505.00" y="425.50" text-anchor="middle" font-size="13.7" filter="url(#tf0)" >0.25</text>
<text x="547.00" y="425.50" text-anchor="middle" font-size="13.7" filter="url(#tf0)" >0.5</text>
<text x="399.50" y="440.50" text-anchor="start" font-size="13.7" filter="url(#tf0)" >Estragole concentration (μL/cm³)</text>
<text transform="translate(364.10,323.20) rotate(-90)" text-anchor="middle" font-size="13.7" style="stroke:none">Spore number (10<tspan dy="-4.5">4</tspan><tspan dy="4.5">)</tspan></text>
<rect x="613.20" y="218.00" width="2.00" height="95.20" fill="#000" />
<rect x="613.20" y="316.70" width="2.00" height="95.20" fill="#000" />
<rect x="613.20" y="410.10" width="185.80" height="1.80" fill="#000" />
<rect x="610.30" y="312.30" width="7.30" height="1.70" fill="#000" />
<rect x="610.30" y="316.00" width="7.30" height="1.70" fill="#000" />
<rect x="613.20" y="217.90" width="7.30" height="2.20" fill="#000" />
<rect x="613.20" y="243.30" width="7.30" height="2.20" fill="#000" />
<rect x="613.20" y="268.50" width="7.30" height="2.20" fill="#000" />
<rect x="613.20" y="293.30" width="7.30" height="2.20" fill="#000" />
<rect x="613.20" y="347.10" width="7.30" height="2.20" fill="#000" />
<rect x="613.20" y="378.10" width="7.30" height="2.20" fill="#000" />
<text x="608.40" y="223.50" text-anchor="end" font-size="13.7" filter="url(#tf0)" >16</text>
<text x="608.40" y="248.90" text-anchor="end" font-size="13.7" filter="url(#tf0)" >12</text>
<text x="608.40" y="273.70" text-anchor="end" font-size="13.7" filter="url(#tf0)" >8</text>
<text x="608.40" y="298.50" text-anchor="end" font-size="13.7" filter="url(#tf0)" >4</text>
<text x="608.40" y="321.00" text-anchor="end" font-size="13.7" filter="url(#tf0)" >0.6</text>
<text x="608.40" y="352.80" text-anchor="end" font-size="13.7" filter="url(#tf0)" >0.4</text>
<text x="608.40" y="383.80" text-anchor="end" font-size="13.7" filter="url(#tf0)" >0.2</text>
<text x="608.40" y="415.00" text-anchor="end" font-size="13.7" filter="url(#tf0)" >0.0</text>
<rect x="626.80" y="228.20" width="25.40" height="84.30" fill="#000" />
<rect x="626.80" y="317.00" width="25.40" height="93.50" fill="#000" />
<rect x="633.20" y="225.80" width="12.80" height="2.00" fill="#000" />
<rect x="638.40" y="227.50" width="2.20" height="1.00" fill="#000" />
<rect x="670.10" y="305.80" width="26.00" height="7.10" fill="#961e23" />
<rect x="670.10" y="317.00" width="26.00" height="93.50" fill="#961e23" />
<rect x="676.60" y="301.80" width="13.20" height="2.20" fill="#000" />
<rect x="682.00" y="303.70" width="2.20" height="2.40" fill="#000" />
<text x="683.10" y="303.55" text-anchor="middle" font-size="13.7" filter="url(#tf0)" style="stroke:none;fill:#1a1a1a">**</text>
<rect x="714.10" y="321.60" width="25.00" height="88.90" fill="#155a31" />
<rect x="720.20" y="317.40" width="12.50" height="2.20" fill="#000" />
<rect x="725.50" y="319.30" width="2.20" height="2.60" fill="#000" />
<text x="726.00" y="317.55" text-anchor="middle" font-size="13.7" filter="url(#tf0)" style="stroke:none;fill:#1a1a1a">**</text>
<rect x="763.10" y="365.30" width="25.70" height="45.20" fill="#1f2c5e" />
<rect x="769.50" y="359.90" width="12.70" height="1.90" fill="#000" />
<rect x="774.85" y="361.50" width="2.20" height="4.10" fill="#000" />
<text x="775.10" y="359.45" text-anchor="middle" font-size="13.7" filter="url(#tf0)" style="stroke:none;fill:#1a1a1a">**</text>
<rect x="704.00" y="404.20" width="1.90" height="6.30" fill="#000" />
<text x="641.40" y="425.50" text-anchor="middle" font-size="13.7" filter="url(#tf0)" >0</text>
<text x="684.00" y="425.50" text-anchor="middle" font-size="13.7" filter="url(#tf0)" >0.125</text>
<text x="727.70" y="425.50" text-anchor="middle" font-size="13.7" filter="url(#tf0)" >0.25</text>
<text x="773.00" y="425.50" text-anchor="middle" font-size="13.7" filter="url(#tf0)" >0.5</text>
<text x="613.80" y="440.00" text-anchor="start" font-size="13.7" filter="url(#tf0)" >Estragole concentration (μL/cm³)</text>
<text transform="translate(587.60,313.50) rotate(-90)" text-anchor="middle" font-size="13.7" style="stroke:none">AFB1 production (ng/g)</text>
</svg>
</body></html>
